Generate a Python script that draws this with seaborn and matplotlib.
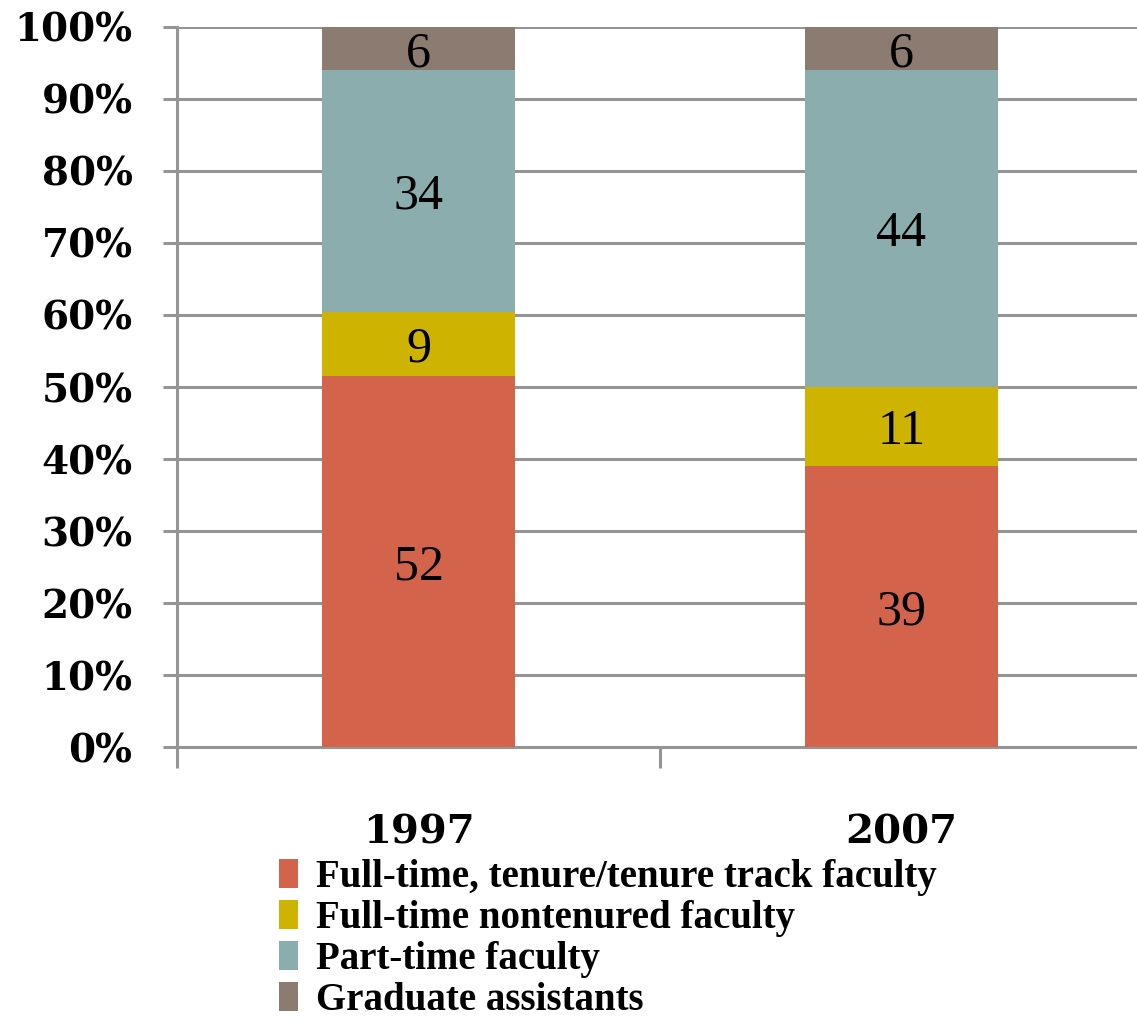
import numpy as np
import pandas as pd
import matplotlib
matplotlib.use("Agg")
import matplotlib.pyplot as plt
from matplotlib.patches import Patch
from matplotlib.ticker import FixedLocator
import seaborn as sns

## Data
years = ['1997', '2007']
categories = ['Full-time, tenure/tenure track faculty',
              'Full-time nontenured faculty',
              'Part-time faculty',
              'Graduate assistants']
tenure_track = [52, 39]
nontenured = [9, 11]
part_time = [34, 44]
grad_assist = [6, 6]

colors = ['#D3634B', '#CEB400', '#8BADAD', '#8B7B70']

df = pd.DataFrame({'year': years,
                   categories[0]: tenure_track,
                   categories[1]: nontenured,
                   categories[2]: part_time,
                   categories[3]: grad_assist})

# 100% stacked: normalise each year
vals = df[categories].astype(float)
share = vals.div(vals.sum(axis=1), axis=0) * 100
cum = share.cumsum(axis=1)

sns.set_style('white')
plt.rcParams['text.color'] = 'black'
plt.rcParams['xtick.labelcolor'] = 'black'
plt.rcParams['ytick.labelcolor'] = 'black'
grid_col = '#959595'

fig = plt.figure(figsize=(11.37, 10.29), dpi=100)
ax = fig.add_axes([0.1557, 0.274, 0.8495, 0.6998])

# draw from the top layer down so lower layers overlay
for i in range(len(categories) - 1, -1, -1):
    sns.barplot(x=df['year'], y=cum[categories[i]], color=colors[i],
                width=0.4, saturation=1, linewidth=0, ax=ax, zorder=3)

# segment labels
for j in range(len(years)):
    for i, cat in enumerate(categories):
        mid = cum[cat].iloc[j] - share[cat].iloc[j] / 2
        ax.text(j, mid, str(int(vals[cat].iloc[j])), ha='center', va='center_baseline',
                fontsize=36, family='Liberation Serif', color='black', zorder=4)

ax.set_xlim(-0.5, 1.5)
ax.set_ylim(0, 100)
ax.set_yticks(np.arange(0, 101, 10))
ax.set_yticklabels([f'{v}%' for v in range(0, 101, 10)],
                   fontsize=28, fontweight='bold', family='DejaVu Serif')
ax.yaxis.grid(True, color=grid_col, linewidth=2.2)
ax.set_axisbelow(True)
ax.tick_params(axis='y', length=10, width=2.2, color=grid_col, pad=22, left=True)

# x ticks at category boundaries, labels at centers
ax.xaxis.set_major_locator(FixedLocator([-0.5, 0.5, 1.5]))
ax.set_xticklabels(['', '', ''])
ax.xaxis.set_minor_locator(FixedLocator([0, 1]))
ax.set_xticklabels(years, minor=True, fontsize=29, fontweight='bold',
                   family='DejaVu Serif')
ax.tick_params(axis='x', which='major', length=15, width=2.2, color=grid_col, bottom=True)
ax.tick_params(axis='x', which='minor', length=0, pad=48)
ax.set_xlabel('')
ax.set_ylabel('')

for s in ['top', 'right']:
    ax.spines[s].set_visible(False)
for s in ['left', 'bottom']:
    ax.spines[s].set_color(grid_col)
    ax.spines[s].set_linewidth(2.2)

handles = [Patch(facecolor=c, edgecolor='none') for c in colors]
fig.legend(handles, categories, loc='upper left', bbox_to_anchor=(0.245, 0.165),
           frameon=False, prop={'family': 'Liberation Serif', 'weight': 'bold', 'size': 28},
           handlelength=0.5, handleheight=0.75, handletextpad=0.45,
           labelspacing=0.1, borderpad=0, borderaxespad=0)

fig.savefig('out.png', dpi=100)
